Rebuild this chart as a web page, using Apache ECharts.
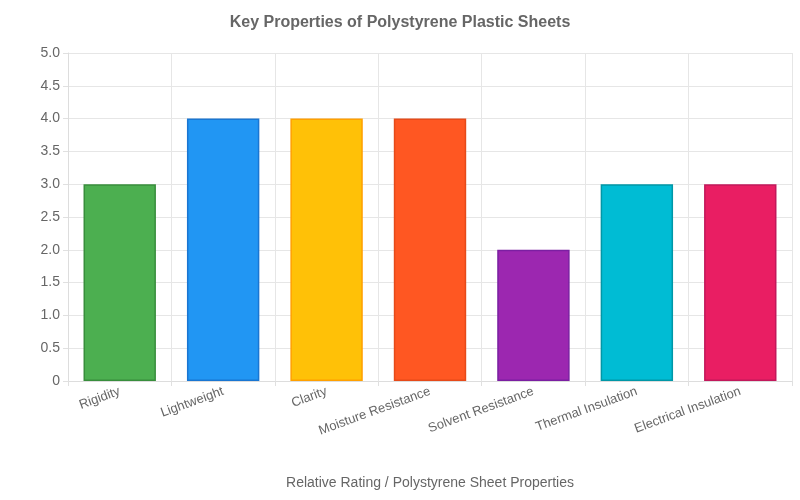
<!DOCTYPE html>
<html><head><meta charset="utf-8">
<script src="https://cdn.jsdelivr.net/npm/echarts@6/dist/echarts.min.js"></script>
<style>html,body{margin:0;padding:0;background:#fff}#c{width:800px;height:500px}</style>
</head><body><div id="c"></div>
<script>
const categories = ["Rigidity","Lightweight","Clarity","Moisture Resistance","Solvent Resistance","Thermal Insulation","Electrical Insulation"];
const values = [3,4,4,4,2,3,3];
const colors = ["#4CAF50","#2196F3","#FFC107","#FF5722","#9C27B0","#00BCD4","#E91E63"];
const borders = ["#388E3C","#1976D2","#FFA000","#E64A19","#7B1FA2","#0097A7","#C2185B"];
const chart = echarts.init(document.getElementById('c'));
chart.setOption({
  animation:false,
  title:{text:"Key Properties of Polystyrene Plastic Sheets",left:'center',top:10,textStyle:{fontFamily:'Liberation Sans, Arial',fontSize:16,fontWeight:'bold',color:'#666'}},
  grid:{left:68,right:8,top:53,bottom:119},
  xAxis:{type:'category',data:categories,name:"Relative Rating / Polystyrene Sheet Properties",nameLocation:'middle',nameGap:95,
    nameTextStyle:{fontFamily:'Liberation Sans, Arial',fontSize:14,color:'#666'},
    axisLabel:{rotate:20,interval:0,fontFamily:'Liberation Sans, Arial',fontSize:13,color:'#666',margin:10},
    axisTick:{show:true,alignWithLabel:false,lineStyle:{color:'#e0e0e0'}},axisLine:{lineStyle:{color:'#ddd'}},
    splitLine:{show:true,lineStyle:{color:'#e6e6e6'}}},
  yAxis:{type:'value',min:0,max:5,interval:0.5,
    axisLabel:{formatter:v=>v===0?'0':v.toFixed(1),fontFamily:'Liberation Sans, Arial',fontSize:14,color:'#666'},
    axisLine:{show:true,lineStyle:{color:'#ddd'}},axisTick:{show:true,lineStyle:{color:'#e0e0e0'}},
    splitLine:{lineStyle:{color:'#e6e6e6'}}},
  series:[{type:'bar',barCategoryGap:'30%',
    data:values.map((v,i)=>({value:v,itemStyle:{color:colors[i],borderColor:borders[i],borderWidth:1.5}}))}]
});
</script></body></html>
